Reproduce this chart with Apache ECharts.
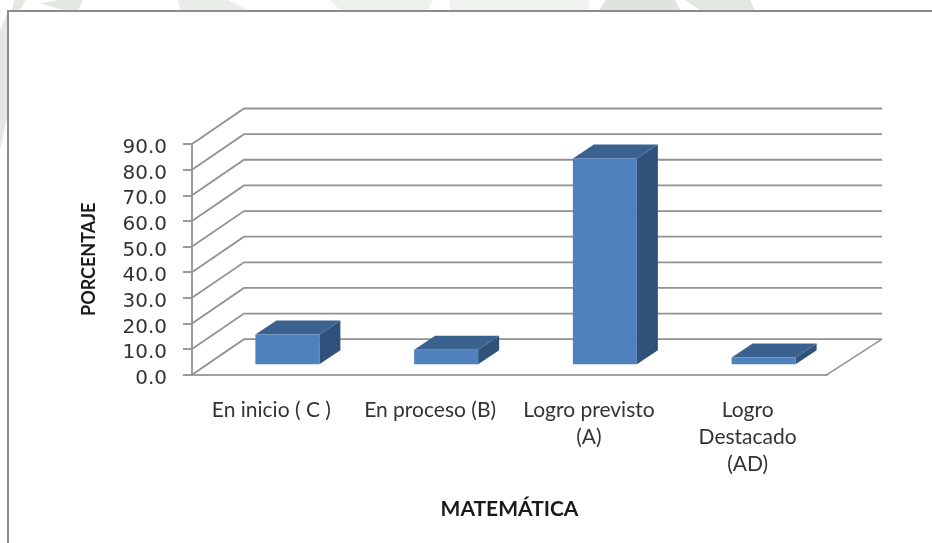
<!DOCTYPE html>
<html>
<head>
<meta charset="utf-8">
<style>html,body{margin:0;padding:0;background:#fff}#c{width:932px;height:543px}</style>
<script src="https://cdn.jsdelivr.net/npm/echarts@6/dist/echarts.min.js"></script>
</head>
<body>
<div id="c"></div>
<script>
const categories = ['En inicio ( C )', 'En proceso (B)', 'Logro previsto\n(A)', 'Logro\nDestacado\n(AD)'];
const values = [11.6, 5.6, 80.2, 2.6];
const gridTicks = [0, 10, 20, 30, 40, 50, 60, 70, 80, 90];
const xTitle = 'MATEMÁTICA';
const yTitle = 'PORCENTAJE';

const GRID = {left: 192, top: 144, width: 635, height: 230.7};
const WALL = {dxLeft: 52, dxRight: 55, dy: 35.5};
const BAR = {w: 64, dx: 21, dy: 14, inX: 16, inY: 10.5};
const COL = {front: '#4F81BD', side: '#30527A', top: '#3B628F', line: '#929292'};

function poly(points, fill) {
  return {type: 'polygon', shape: {points}, style: {fill, stroke: null}};
}
function renderWall(params, api) {
  const cs = params.coordSys;
  const y = api.coord([0, api.value(0)])[1];
  const xL = cs.x, xR = cs.x + cs.width;
  const bx0 = xL + WALL.dxLeft, bx1 = xR + WALL.dxRight, by = y - WALL.dy;
  const children = [{
    type: 'polyline',
    shape: {points: [[xL, y], [bx0, by], [bx1, by]]},
    style: {stroke: COL.line, lineWidth: 1.8, fill: null}
  }];
  if (api.value(0) === 0) {
    children.push({
      type: 'polyline',
      shape: {points: [[bx1, by], [xR, y]]},
      style: {stroke: COL.line, lineWidth: 1.5, fill: null}
    });
  }
  return {type: 'group', children};
}
function renderBar(params, api) {
  const top = api.coord([api.value(0), api.value(1)]);
  const base = api.coord([api.value(0), 0]);
  const x0 = top[0] + BAR.inX - BAR.w / 2, x1 = x0 + BAR.w;
  const yt = top[1] - BAR.inY, yb = base[1] - BAR.inY;
  return {type: 'group', children: [
    poly([[x1, yb], [x1 + BAR.dx, yb - BAR.dy], [x1 + BAR.dx, yt - BAR.dy], [x1, yt]], COL.side),
    poly([[x0, yt], [x0 + BAR.dx, yt - BAR.dy], [x1 + BAR.dx, yt - BAR.dy], [x1, yt]], COL.top),
    poly([[x0, yb], [x1, yb], [x1, yt], [x0, yt]], COL.front)
  ]};
}

const chart = echarts.init(document.getElementById('c'), null, {renderer: 'canvas'});
chart.setOption({
  animation: false,
  backgroundColor: '#ffffff',
  graphic: [
    {type: 'polygon', silent: true, z: -3, shape: {points: [[14, 0], [26, 0], [20, 10], [12, 10]]}, style: {fill: '#e3e8e3'}},
    {type: 'polygon', silent: true, z: -3, shape: {points: [[60, 0], [83, 0], [78, 10], [62, 10], [40, 3]]}, style: {fill: '#e3e8e3'}},
    {type: 'polygon', silent: true, z: -3, shape: {points: [[178, 0], [228, 0], [247, 10], [180, 10]]}, style: {fill: '#e9ece9'}},
    {type: 'polygon', silent: true, z: -3, shape: {points: [[330, 0], [433, 0], [428, 10], [340, 10]]}, style: {fill: '#eef0ee'}},
    {type: 'polygon', silent: true, z: -3, shape: {points: [[450, 0], [589, 0], [589, 10], [450, 10]]}, style: {fill: '#f1f3f1'}},
    {type: 'polygon', silent: true, z: -3, shape: {points: [[606, 0], [675, 0], [680, 10], [599, 10]]}, style: {fill: '#dfe4df'}},
    {type: 'polygon', silent: true, z: -3, shape: {points: [[685, 0], [750, 0], [755, 10], [700, 10]]}, style: {fill: '#e3e7e3'}},
    {type: 'polygon', silent: true, z: -3, shape: {points: [[0, 30], [7, 14], [7, 118], [0, 150]]}, style: {fill: '#e3e8e3'}},
    {type: 'rect', silent: true, z: -2, shape: {x: 8, y: 11, width: 940, height: 560},
      style: {fill: '#ffffff', stroke: '#8c8c8c', lineWidth: 2}}
  ],
  grid: GRID,
  xAxis: {
    type: 'category',
    data: categories,
    name: xTitle,
    nameLocation: 'middle',
    nameGap: 124,
    nameTextStyle: {fontFamily: 'Lato', fontWeight: 'bold', fontSize: 21, color: '#1a1a1a'},
    axisLine: {lineStyle: {color: '#a0a0a0', width: 2}},
    axisTick: {show: false},
    axisLabel: {interval: 0, margin: 22, fontFamily: 'Lato', fontSize: 21, lineHeight: 27, color: '#333333'}
  },
  yAxis: {
    type: 'value',
    min: 0,
    max: 90,
    interval: 10,
    name: yTitle,
    nameLocation: 'middle',
    nameRotate: 90,
    nameGap: 94,
    nameTextStyle: {fontFamily: 'Lato', fontWeight: 'bold', fontSize: 18, color: '#1a1a1a'},
    axisLine: {show: true, lineStyle: {color: '#9a9a9a', width: 2}},
    axisTick: {show: true, length: 9, lineStyle: {color: '#9a9a9a', width: 2}},
    axisLabel: {margin: 25, fontFamily: 'DejaVu Sans', fontSize: 20, color: '#333333', padding: [0, 0, 0, 0],
      verticalAlign: 'top', lineHeight: 8,
      formatter: v => v.toFixed(1)},
    splitLine: {show: false}
  },
  series: [
    {type: 'custom', name: 'Paredes', z: 1, silent: true, clip: false, renderItem: renderWall,
      data: gridTicks.map(v => [v]), encode: {y: 0}},
    {type: 'custom', name: 'Porcentaje', z: 2, silent: true, clip: false, renderItem: renderBar,
      data: values.map((v, i) => [i, v]), encode: {x: 0, y: 1}}
  ]
});
</script>
</body>
</html>
